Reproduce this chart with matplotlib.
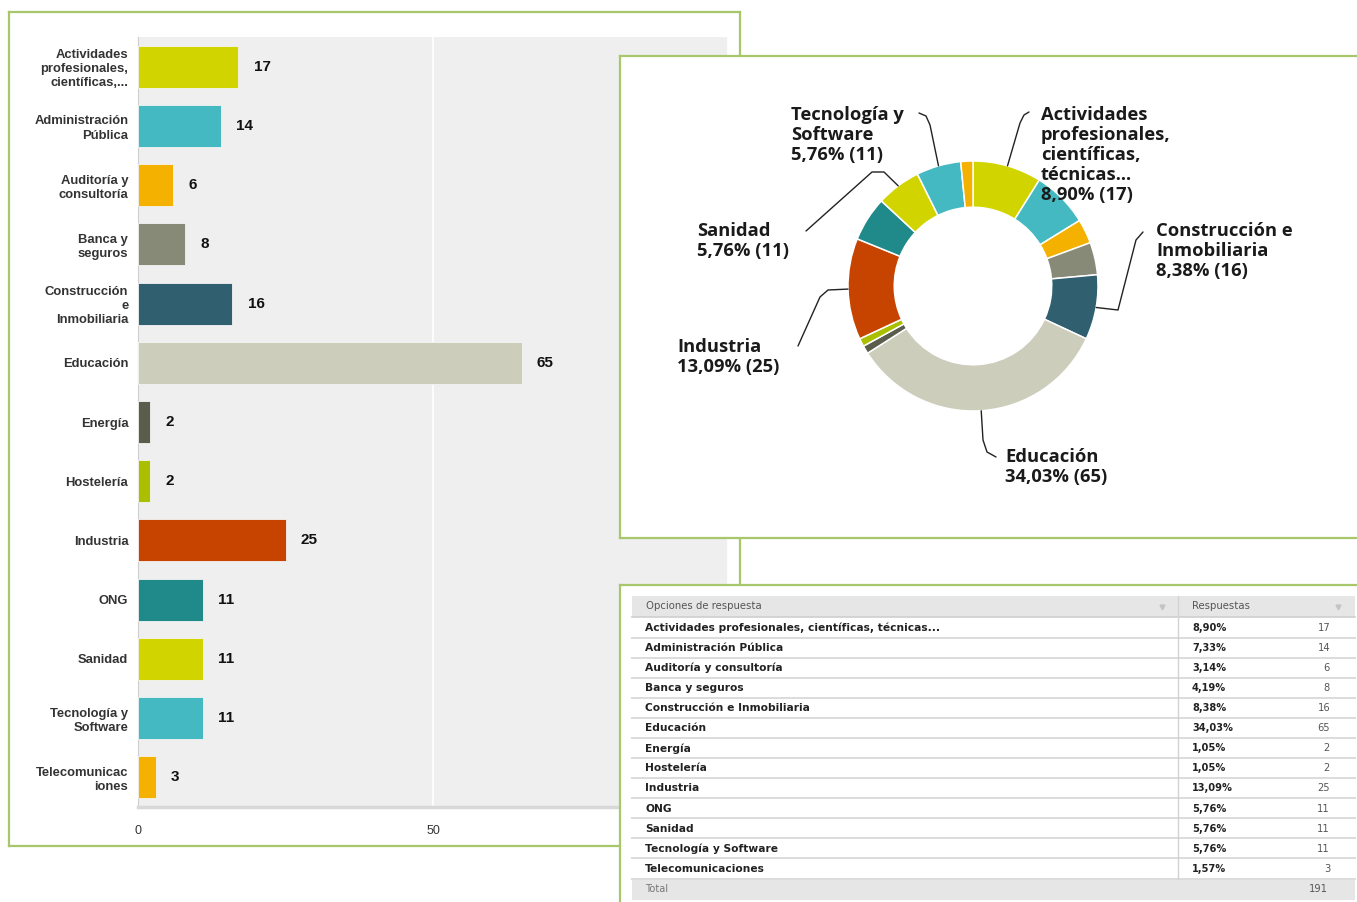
import matplotlib
matplotlib.use("Agg")
import matplotlib.pyplot as plt
from matplotlib.patches import Rectangle
import numpy as np

# ---------------- data ----------------
bar_labels = ["Actividades\nprofesionales,\ncientíficas,...", "Administración\nPública",
              "Auditoría y\nconsultoría", "Banca y\nseguros", "Construcción\ne\nInmobiliaria",
              "Educación", "Energía", "Hostelería", "Industria", "ONG", "Sanidad",
              "Tecnología y\nSoftware", "Telecomunicac\niones"]
table_labels = ["Actividades profesionales, científicas, técnicas...", "Administración Pública",
                "Auditoría y consultoría", "Banca y seguros", "Construcción e Inmobiliaria",
                "Educación", "Energía", "Hostelería", "Industria", "ONG", "Sanidad",
                "Tecnología y Software", "Telecomunicaciones"]
values = [17, 14, 6, 8, 16, 65, 2, 2, 25, 11, 11, 11, 3]
colors = ["#d2d400", "#44b9c1", "#f5b100", "#878a77", "#305f6f", "#cdcdbc", "#5a5d4b",
          "#a9bf00", "#c64300", "#1f8a89", "#d2d400", "#44b9c1", "#f5b100"]
x_ticks = [0, 50, 100]
pie_labels = {11: "Tecnología y\nSoftware", 0: "Actividades\nprofesionales,\ncientíficas,\ntécnicas...",
              4: "Construcción e\nInmobiliaria", 5: "Educación", 8: "Industria", 10: "Sanidad"}
table_header = ["Opciones de respuesta", "Respuestas"]
total_label = "Total"

# ---------------- layout helpers ----------------
W, H = 1357, 902
fig = plt.figure(figsize=(W / 100, H / 100), dpi=100)
fig.patch.set_facecolor("white")
GREEN = "#a8c76a"


def rect(x0, y0, x1, y1):
    return [x0 / W, 1 - y1 / H, (x1 - x0) / W, (y1 - y0) / H]


def card(x0, y0, x1, y1, z):
    ax = fig.add_axes(rect(x0, y0, x1, y1), zorder=z)
    ax.set_xticks([])
    ax.set_yticks([])
    ax.set_facecolor("white")
    for s in ax.spines.values():
        s.set_color(GREEN)
        s.set_linewidth(1.6)
    return ax


def pct(v):
    return f"{v / sum(values) * 100:.2f}".replace(".", ",") + "%"


# ---------------- card 1 : bar chart ----------------
card(9, 12, 740, 846, 1)
axb = fig.add_axes(rect(138, 37, 728, 807), zorder=2)
axb.set_facecolor("#efefef")
y = np.arange(len(values))
axb.barh(y, values, height=0.71, color=colors, edgecolor="#f4f4f4", linewidth=0.6, zorder=3)
axb.set_xlim(0, 100)
axb.set_ylim(len(values) - 0.5, -0.5)
axb.set_yticks(y)
axb.set_yticklabels(bar_labels, fontsize=9.4, fontweight="bold", color="#333333",
                    family="Liberation Sans", linespacing=1.25)
axb.set_xticks(x_ticks)
axb.set_xticklabels([str(t) for t in x_ticks], fontsize=9, color="#333333", family="Liberation Sans")
axb.tick_params(axis="both", length=0)
axb.tick_params(axis="y", pad=7)
axb.tick_params(axis="x", pad=13)
axb.grid(axis="x", color="white", linewidth=1.2)
axb.set_axisbelow(True)
for s in ["top", "right"]:
    axb.spines[s].set_visible(False)
axb.spines["left"].set_color("#cfcfcf")
axb.spines["left"].set_linewidth(0.8)
axb.spines["bottom"].set_color("#d8d8d8")
axb.spines["bottom"].set_linewidth(2.5)
for i, v in enumerate(values):
    axb.annotate(str(v), (v, i), xytext=(11, 0), textcoords="offset points", va="center",
                 ha="left", fontsize=11, fontweight="bold", color="#111111", family="Liberation Sans")

# ---------------- card 2 : donut ----------------
card(620, 56, 1375, 538, 3)
CX, CY, R = 973, 286, 125
axp = fig.add_axes(rect(CX - R, CY - R, CX + R, CY + R), zorder=4)
axp.pie(values, colors=colors, startangle=90, counterclock=False, radius=1,
        wedgeprops=dict(width=0.37, edgecolor="white", linewidth=1.1))
axp.set_xlim(-1, 1)
axp.set_ylim(-1, 1)
axp.set_aspect("equal")
axp.axis("off")

# label layout (pixel positions in the figure): text left/top, leader path after start
label_layout = {
    11: dict(text=(791, 106), path=[(930, 125), (926, 116), (919, 113)]),
    0: dict(text=(1041, 106), path=[(1020, 123), (1024, 115), (1029, 112)]),
    4: dict(text=(1156, 222), path=[(1118, 310), (1136, 240), (1143, 232)]),
    5: dict(text=(1005, 448), path=[(983, 440), (987, 452), (996, 457)]),
    8: dict(text=(677, 338), path=[(828, 290), (820, 297), (798, 346)]),
    10: dict(text=(697, 222), path=[(884, 172), (872, 172), (806, 231)]),
}
total = sum(values)
cum = np.cumsum([0] + values)


def to_pie(px, py):
    return ((px - CX) / R, -(py - CY) / R)


for idx, name in pie_labels.items():
    mid = (cum[idx] + values[idx] / 2) / total * 2 * np.pi
    sx, sy = np.sin(mid), np.cos(mid)
    lay = label_layout[idx]
    pts = [(sx, sy)] + [to_pie(*p) for p in lay["path"]]
    xs, ys = zip(*pts)
    axp.plot(xs, ys, color="#222222", lw=1.0, clip_on=False, solid_capstyle="round",
             solid_joinstyle="round")
    tx, ty = to_pie(*lay["text"])
    axp.text(tx, ty, f"{name}\n{pct(values[idx])} ({values[idx]})", ha="left", va="top",
             fontsize=13.2, fontweight="bold", color="#1a1a1a", family="Open Sans",
             linespacing=1.15, clip_on=False)

# ---------------- card 3 : table ----------------
axt = card(620, 585, 1375, 915, 5)
axt.set_xlim(620, 1375)
axt.set_ylim(915, 585)
ROW_H = 20.08
X0, X1, XDIV = 632, 1355, 1178
axt.add_patch(Rectangle((X0, 596), X1 - X0, 21, facecolor="#e6e6e6", edgecolor="none"))
axt.text(646, 606.5, table_header[0], fontsize=7.3, color="#555555", va="center", family="DejaVu Sans")
axt.text(1192, 606.5, table_header[1], fontsize=7.3, color="#555555", va="center", family="DejaVu Sans")
axt.plot([1162, 1338], [607, 607], marker="v", ms=3.5, ls="none", color="#c4c4c4")
axt.plot([X0, X1], [617.5, 617.5], color="#cfcfcf", lw=1.2)
for i, (lab, v) in enumerate(zip(table_labels, values)):
    yc = 627.8 + i * ROW_H
    axt.text(645, yc, lab, fontsize=7.7, fontweight="bold", color="#222222", va="center",
             family="DejaVu Sans")
    axt.text(1192, yc, pct(v), fontsize=7.1, fontweight="bold", color="#222222", va="center",
             family="DejaVu Sans")
    axt.text(1330, yc, str(v), fontsize=7.1, color="#555555", va="center", ha="right",
             family="DejaVu Sans")
    ysep = 617.5 + (i + 1) * ROW_H
    axt.plot([X0, X1], [ysep, ysep], color="#dcdcdc", lw=1.4)
ytot = 617.5 + len(values) * ROW_H
axt.add_patch(Rectangle((X0, ytot), X1 - X0, 21, facecolor="#e6e6e6", edgecolor="none"))
axt.plot([XDIV, XDIV], [596, ytot], color="#d2d2d2", lw=1.0)
axt.text(645, ytot + 10, total_label, fontsize=7.1, color="#777777", va="center", family="DejaVu Sans")
axt.text(1328, ytot + 10, str(sum(values)), fontsize=7.1, color="#555555", va="center", ha="right",
         family="DejaVu Sans")

fig.savefig("out.png", dpi=100, facecolor="white")
